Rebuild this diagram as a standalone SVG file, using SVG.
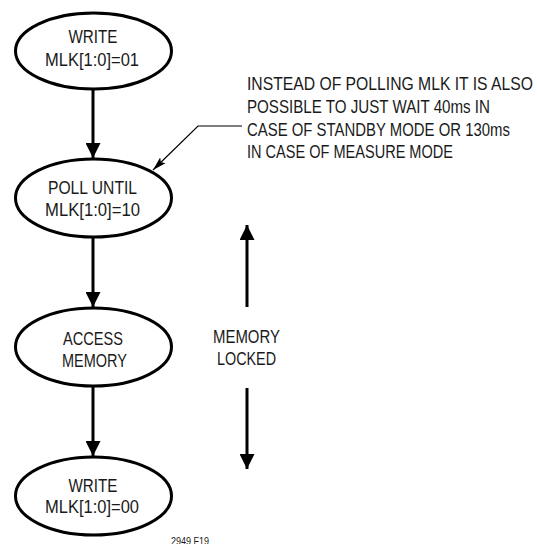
<svg xmlns="http://www.w3.org/2000/svg" width="537" height="544" viewBox="0 0 537 544">
<defs>
<style>
.node ellipse{fill:#fff;stroke:#000;stroke-width:3}
text{font-family:"Liberation Sans",Arial,sans-serif;font-size:18px;fill:#1a1a1a}
.c{text-anchor:middle}
.conn line,.conn path{stroke:#000;fill:none}
.thick{stroke-width:3}
</style>
<marker id="ah" markerWidth="5" markerHeight="5" refX="5" refY="2.5" orient="auto" markerUnits="strokeWidth">
<path d="M0,0 L5,2.5 L0,5 Z" fill="#000"/>
</marker>
<marker id="thin" markerWidth="14" markerHeight="8" refX="14" refY="4" orient="auto" markerUnits="userSpaceOnUse">
<path d="M0,0 L14,4 L0,8 L3,4 Z" fill="#000"/>
</marker>
</defs>
<rect width="537" height="544" fill="#fff"/>
<g id="connectors" class="conn">
<line class="thick" x1="93" y1="89" x2="93" y2="158" marker-end="url(#ah)"/>
<line class="thick" x1="93" y1="237" x2="93" y2="307" marker-end="url(#ah)"/>
<line class="thick" x1="93" y1="386" x2="93" y2="456" marker-end="url(#ah)"/>
<line class="thick" x1="247" y1="307" x2="247" y2="225" marker-end="url(#ah)"/>
<line class="thick" x1="247" y1="388" x2="247" y2="469" marker-end="url(#ah)"/>
<path d="M242,126 L198,126 L153,170" stroke-width="1.2" marker-end="url(#thin)"/>
</g>
<g id="n1" class="node">
<ellipse cx="93.5" cy="51" rx="78" ry="38"/>
<text class="c" x="93" y="43" textLength="49" lengthAdjust="spacingAndGlyphs">WRITE</text>
<text class="c" x="92" y="66" textLength="94" lengthAdjust="spacingAndGlyphs">MLK[1:0]=01</text>
</g>
<g id="n2" class="node">
<ellipse cx="93.5" cy="198" rx="78" ry="39"/>
<text class="c" x="92.5" y="194" textLength="89" lengthAdjust="spacingAndGlyphs">POLL UNTIL</text>
<text class="c" x="92.5" y="216" textLength="95" lengthAdjust="spacingAndGlyphs">MLK[1:0]=10</text>
</g>
<g id="n3" class="node">
<ellipse cx="93.5" cy="347" rx="78" ry="39"/>
<text class="c" x="93" y="345" textLength="60" lengthAdjust="spacingAndGlyphs">ACCESS</text>
<text class="c" x="94.5" y="367" textLength="65" lengthAdjust="spacingAndGlyphs">MEMORY</text>
</g>
<g id="n4" class="node">
<ellipse cx="93.5" cy="496" rx="78" ry="39"/>
<text class="c" x="93" y="492" textLength="49" lengthAdjust="spacingAndGlyphs">WRITE</text>
<text class="c" x="92" y="513" textLength="94" lengthAdjust="spacingAndGlyphs">MLK[1:0]=00</text>
</g>
<g id="memory-locked">
<text class="c" x="246.5" y="343" textLength="67" lengthAdjust="spacingAndGlyphs">MEMORY</text>
<text class="c" x="246.5" y="365" textLength="59" lengthAdjust="spacingAndGlyphs">LOCKED</text>
</g>
<g id="note">
<text x="247" y="90" textLength="286" lengthAdjust="spacingAndGlyphs">INSTEAD OF POLLING MLK IT IS ALSO</text>
<text x="247" y="113" textLength="243" lengthAdjust="spacingAndGlyphs">POSSIBLE TO JUST WAIT 40ms IN</text>
<text x="247" y="136" textLength="263" lengthAdjust="spacingAndGlyphs">CASE OF STANDBY MODE OR 130ms</text>
<text x="247" y="158" textLength="206" lengthAdjust="spacingAndGlyphs">IN CASE OF MEASURE MODE</text>
</g>
<text x="171" y="545" style="font-size:10px" textLength="38" lengthAdjust="spacingAndGlyphs">2949 F19</text>
</svg>
